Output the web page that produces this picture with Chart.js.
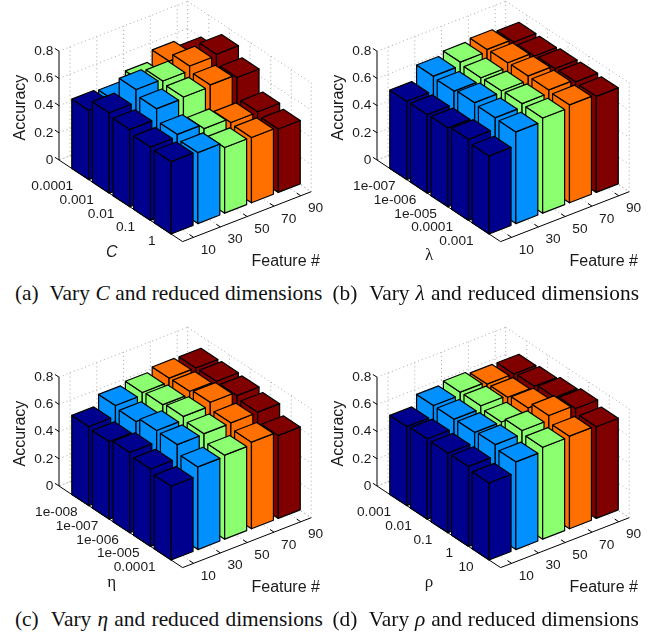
<!DOCTYPE html>
<html>
<head>
<meta charset="utf-8">
<script src="https://cdn.jsdelivr.net/npm/chart.js@4"></script>
<style>
  html, body { margin: 0; padding: 0; background: #fff; overflow: hidden; }
  #page { position: relative; width: 665px; height: 633px; }
  canvas { position: absolute; }
  .cap { position: absolute; font-family: "Liberation Serif", serif; font-size: 21.4px; white-space: nowrap; line-height: 22px; color: #111; }
</style>
</head>
<body>
<div id="page"></div>
<script>
// values, one row per parameter value, one column per feature count
const featureLabels = ['10', '30', '50', '70', '90'];
const accuracyTicks = [0, 0.2, 0.4, 0.6, 0.8];
const barColors = ['#00008f', '#0090ff', '#8cff70', '#ff7000', '#800000'];

const cLabels = ['0.0001', '0.001', '0.01', '0.1', '1'];
const cValues = [
    [0.510, 0.500, 0.564, 0.642, 0.598],
    [0.591, 0.686, 0.672, 0.706, 0.716],
    [0.569, 0.645, 0.654, 0.667, 0.645],
    [0.539, 0.556, 0.522, 0.490, 0.493],
    [0.532, 0.522, 0.483, 0.480, 0.466]
];

const lambdaLabels = ['1e-007', '1e-006', '1e-005', '0.0001', '0.001'];
const lambdaValues = [
    [0.576, 0.684, 0.711, 0.728, 0.706],
    [0.578, 0.674, 0.696, 0.730, 0.703],
    [0.581, 0.689, 0.700, 0.733, 0.711],
    [0.596, 0.679, 0.706, 0.730, 0.713],
    [0.574, 0.674, 0.700, 0.720, 0.706]
];

const etaLabels = ['1e-008', '1e-007', '1e-006', '1e-005', '0.0001'];
const etaValues = [
    [0.581, 0.659, 0.679, 0.708, 0.706],
    [0.571, 0.642, 0.689, 0.711, 0.708],
    [0.591, 0.676, 0.703, 0.730, 0.703],
    [0.569, 0.672, 0.676, 0.679, 0.681],
    [0.542, 0.608, 0.618, 0.637, 0.610]
];

const rhoLabels = ['0.001', '0.01', '0.1', '1', '10'];
const rhoValues = [
    [0.581, 0.659, 0.681, 0.664, 0.662],
    [0.591, 0.659, 0.681, 0.667, 0.672],
    [0.586, 0.662, 0.662, 0.689, 0.691],
    [0.588, 0.672, 0.699, 0.733, 0.708],
    [0.566, 0.645, 0.676, 0.681, 0.674]
];

// oblique view of the 3d box, in pixels per grid step
const catStep = { x: 20.6, y: 13.6 };
const featStep = { x: 26.8, y: -10.4 };
const zPixels = 136;
const barWidth = 0.82;
const uMin = -1.03, uMax = 4.97;
const vMin = -0.41, vMax = 4.39;

const axisLeft = 59;
const originTop = 160;
const canvasW = 330, canvasH = 280, areaH = 250;

// u = parameter index, v = feature index, z = accuracy
function project(u, v, z) {
    const du = u - uMin, dv = v - vMin;
    return {
        x: du * catStep.x + dv * featStep.x,
        y: z - (du * catStep.y + dv * featStep.y) / zPixels
    };
}

function lineSet(points, color, width, dash) {
    return {
        data: points,
        showLine: true,
        fill: false,
        borderColor: color,
        borderWidth: width,
        borderDash: dash || [],
        pointRadius: 0,
        tension: 0,
        clip: false
    };
}

function faceSet(points, color) {
    const set = lineSet(points.concat([points[0]]), '#000', 1.2);
    set.fill = 'shape';
    set.backgroundColor = color;
    set.borderJoinStyle = 'round';
    return set;
}

function gridSets() {
    const grid = [];
    const dotted = (a, b) => grid.push(lineSet([a, b], '#a8a8a8', 1, [1, 3]));
    const top = accuracyTicks[accuracyTicks.length - 1];

    accuracyTicks.forEach(z => {
        dotted(project(uMin, vMin, z), project(uMin, vMax, z));
        dotted(project(uMin, vMax, z), project(uMax, vMax, z));
    });
    featureLabels.forEach((_, j) => {
        dotted(project(uMin, j, 0), project(uMin, j, top));
        dotted(project(uMin, j, 0), project(uMax, j, 0));
    });
    cLabels.forEach((_, i) => {
        dotted(project(i, vMax, 0), project(i, vMax, top));
        dotted(project(i, vMin, 0), project(i, vMax, 0));
    });
    dotted(project(uMin, vMax, 0), project(uMin, vMax, top));
    dotted(project(uMax, vMax, 0), project(uMax, vMax, top));
    dotted(project(uMin, vMax, 0), project(uMax, vMax, 0));
    dotted(project(uMin, vMax, 0), project(uMin, vMin, 0));
    return grid;
}

function axisSets() {
    const axes = [];
    const solid = (a, b) => axes.push(lineSet([a, b], '#000', 1));
    const top = accuracyTicks[accuracyTicks.length - 1];

    solid(project(uMin, vMin, 0), project(uMin, vMin, top));
    solid(project(uMin, vMin, 0), project(uMax, vMin, 0));
    solid(project(uMax, vMin, 0), project(uMax, vMax, 0));
    accuracyTicks.forEach(z => solid(project(uMin, vMin, z), project(uMin - 0.2, vMin, z)));
    cLabels.forEach((_, i) => solid(project(i, vMin, 0), project(i, vMin + 0.15, 0)));
    featureLabels.forEach((_, j) => solid(project(uMax, j, 0), project(uMax - 0.2, j, 0)));
    return axes;
}

function barSets(values) {
    const faces = [];
    const h = barWidth / 2;
    // back to front, so nearer bars paint over farther ones
    values.forEach((row, i) => {
        for (let j = row.length - 1; j >= 0; j--) {
            const z = row[j], color = barColors[j];
            faces.push(faceSet([project(i - h, j - h, 0), project(i + h, j - h, 0), project(i + h, j - h, z), project(i - h, j - h, z)], color));
            faces.push(faceSet([project(i + h, j - h, 0), project(i + h, j + h, 0), project(i + h, j + h, z), project(i + h, j - h, z)], color));
            faces.push(faceSet([project(i - h, j - h, z), project(i + h, j - h, z), project(i + h, j + h, z), project(i - h, j + h, z)], color));
        }
    });
    return faces;
}

const panelText = {
    id: 'panelText',
    afterDraw(chart, args, opts) {
        const ctx = chart.ctx;
        const at = (u, v, z) => {
            const p = project(u, v, z);
            return { x: chart.scales.x.getPixelForValue(p.x), y: chart.scales.y.getPixelForValue(p.y) };
        };
        const tickFont = '13.7px "Liberation Sans", Arial, sans-serif';
        const titleFont = '16px "Liberation Sans", Arial, sans-serif';
        ctx.save();
        ctx.fillStyle = '#1a1a1a';
        ctx.textBaseline = 'middle';

        ctx.font = tickFont;
        ctx.textAlign = 'right';
        opts.labels.forEach((label, i) => {
            const p = at(i, vMin, 0);
            // the exponent labels sit a little further right in the original
            const extra = label.includes('e-') ? 4.5 : 0;
            ctx.fillText(label, p.x - 7 + extra, p.y + 12.7);
        });

        ctx.textAlign = 'center';
        featureLabels.forEach((label, j) => {
            const p = at(uMax, j, 0);
            ctx.fillText(label, p.x + 14.7, p.y + 12.7);
        });

        ctx.font = titleFont;
        ctx.fillText('Feature #', axisLeft + 226.7, originTop + 101.3);

        ctx.font = opts.nameFont;
        ctx.fillText(opts.name, axisLeft + opts.nameX, originTop + opts.nameY);

        ctx.font = titleFont;
        ctx.translate(axisLeft - 38.8, originTop - 52.4);
        ctx.rotate(-Math.PI / 2);
        ctx.fillText('Accuracy', 0, 0);
        ctx.restore();
    }
};

function drawPanel(opts) {
    const canvas = document.createElement('canvas');
    canvas.width = canvasW;
    canvas.height = canvasH;
    canvas.style.left = (opts.axisX - axisLeft) + 'px';
    canvas.style.top = (opts.originY - originTop) + 'px';
    document.getElementById('page').appendChild(canvas);

    // chart.js paints the first dataset last, so the list is reversed
    const datasets = gridSets().concat(axisSets(), barSets(opts.values)).reverse();

    new Chart(canvas, {
        type: 'scatter',
        data: { datasets: datasets },
        options: {
            responsive: false,
            animation: false,
            layout: { autoPadding: false, padding: { bottom: canvasH - areaH } },
            plugins: {
                legend: { display: false },
                tooltip: { enabled: false },
                panelText: opts
            },
            scales: {
                x: { display: false, min: 0, max: canvasW - axisLeft },
                y: {
                    min: -(areaH - originTop) / zPixels,
                    max: originTop / zPixels,
                    afterBuildTicks(scale) {
                        scale.ticks = accuracyTicks.map(v => ({ value: v }));
                    },
                    afterFit(scale) {
                        scale.width = axisLeft;
                        scale.paddingTop = 0;
                        scale.paddingBottom = 0;
                    },
                    border: { display: false },
                    grid: { display: false, drawTicks: false },
                    ticks: {
                        padding: 5.7,
                        autoSkip: false,
                        color: '#1a1a1a',
                        font: { family: '"Liberation Sans", Arial, sans-serif', size: 13.7 },
                        callback: v => String(v)
                    }
                }
            }
        },
        plugins: [panelText]
    });

    const cap = document.createElement('div');
    cap.className = 'cap';
    cap.style.left = opts.capX + 'px';
    cap.style.top = opts.capY + 'px';
    cap.style.wordSpacing = opts.capGap + 'px';
    cap.innerHTML = opts.caption;
    document.getElementById('page').appendChild(cap);
}

const sansItalic = 'italic 16px "Liberation Sans", Arial, sans-serif';
const symbolFont = '17px "Liberation Serif", serif';

drawPanel({ axisX: 59, originY: 160, values: cValues, labels: cLabels, name: 'C', nameFont: sansItalic, nameX: 52.7, nameY: 93,
    capX: 15, capY: 282, capGap: 0.2, caption: '(a)&nbsp; Vary <i>C</i> and reduced dimensions' });
drawPanel({ axisX: 377, originY: 160, values: lambdaValues, labels: lambdaLabels, name: 'λ', nameFont: symbolFont, nameX: 52, nameY: 96,
    capX: 332.5, capY: 282, capGap: 0.7, caption: '(b)&nbsp; Vary <i>λ</i> and reduced dimensions' });
drawPanel({ axisX: 59, originY: 486, values: etaValues, labels: etaLabels, name: 'η', nameFont: symbolFont, nameX: 52.7, nameY: 97,
    capX: 15, capY: 608, capGap: 0.9, caption: '(c)&nbsp; Vary <i>η</i> and reduced dimensions' });
drawPanel({ axisX: 377, originY: 486, values: rhoValues, labels: rhoLabels, name: 'ρ', nameFont: symbolFont, nameX: 52, nameY: 97,
    capX: 332.5, capY: 608, capGap: 0.5, caption: '(d)&nbsp; Vary <i>ρ</i> and reduced dimensions' });
</script>
</body>
</html>
